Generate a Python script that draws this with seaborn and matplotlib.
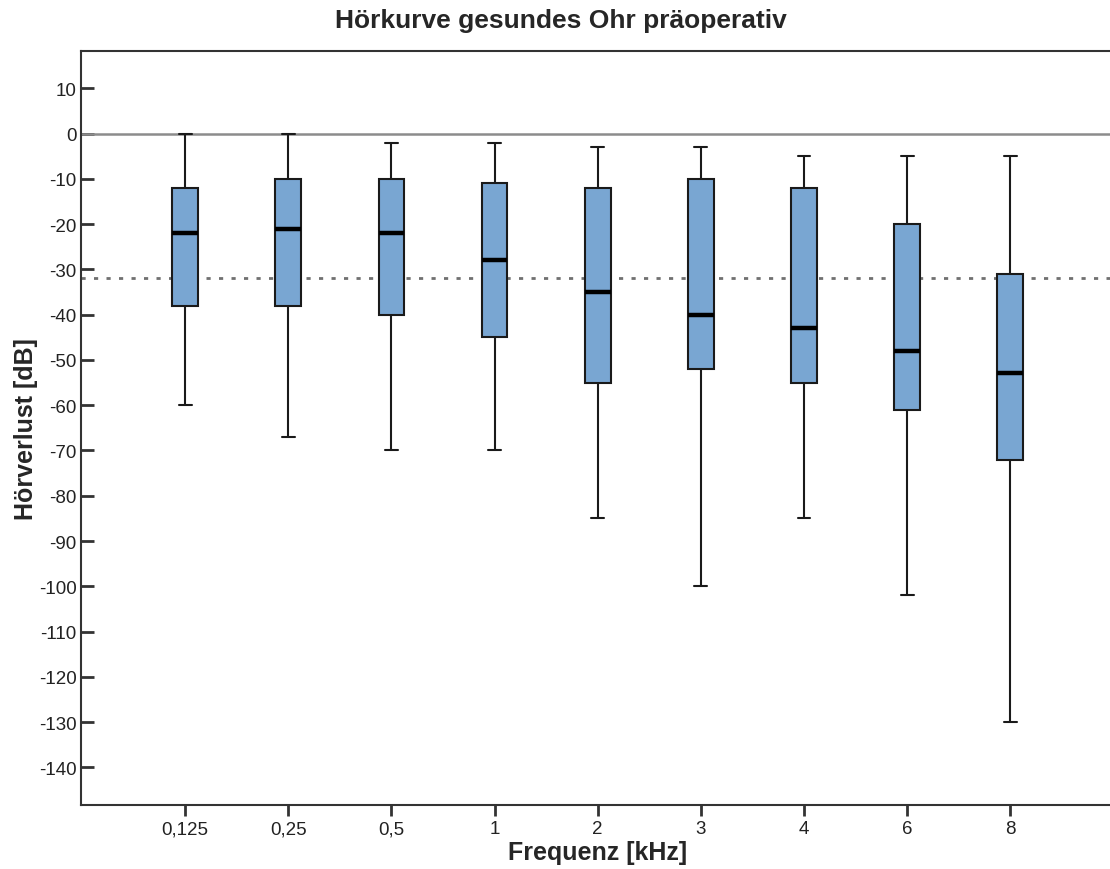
import matplotlib
matplotlib.use("Agg")
import matplotlib.pyplot as plt
import seaborn as sns
import pandas as pd

frequencies = ["0,125", "0,25", "0,5", "1", "2", "3", "4", "6", "8"]
whisker_low = [-60, -67, -70, -70, -85, -100, -85, -102, -130]
q1_values = [-38, -38, -40, -45, -55, -52, -55, -61, -72]
medians = [-22, -21, -22, -28, -35, -40, -43, -48, -53]
q3_values = [-12, -10, -10, -11, -12, -10, -12, -20, -31]
whisker_high = [0, 0, -2, -2, -3, -3, -5, -5, -5]
reference_level = -32

rows = []
for f, lo, a, m, b, hi in zip(frequencies, whisker_low, q1_values, medians, q3_values, whisker_high):
    for v in (lo, a, m, b, hi):
        rows.append({"Frequenz": f, "Hörverlust": v})
df = pd.DataFrame(rows)

sns.set_style("white")
plt.rcParams["font.family"] = ["Liberation Sans", "DejaVu Sans"]

fig = plt.figure(figsize=(11.1, 8.7), dpi=100)
ax = fig.add_axes([0.073, 0.0736, 0.93, 0.867])

ax.axhline(0, color="#8c8c8c", lw=1.8, zorder=1)
ax.axhline(reference_level, color="#707070", lw=2, ls=(0, (1.5, 3)), zorder=1)

sns.boxplot(data=df, x="Frequenz", y="Hörverlust", order=frequencies,
            whis=(0, 100), width=0.25, color="#79a6d2", saturation=1,
            linecolor="#1a1a1a", linewidth=1.5, fliersize=0,
            medianprops={"color": "black", "linewidth": 3.2},
            ax=ax, zorder=3)

ax.set_xlim(-1.01, 9.0)
ax.set_ylim(-148.3, 18.3)
ax.set_yticks(range(-140, 11, 10))
ax.set_yticklabels([str(v) for v in range(-140, 11, 10)])

for s in ["left", "bottom", "top"]:
    ax.spines[s].set_color("#333333")
    ax.spines[s].set_linewidth(1.5)
ax.spines["right"].set_visible(False)

ax.tick_params(axis="y", direction="in", length=9, width=2, color="#333333",
               labelsize=13.5, labelcolor="#222222", left=True, pad=3)
ax.tick_params(axis="x", direction="out", length=8, width=2, color="#333333",
               labelsize=13.5, labelcolor="#222222", bottom=True, pad=3)

ax.set_xlabel("Frequenz [kHz]", fontsize=18, fontweight="bold", labelpad=2)
ax.set_ylabel("Hörverlust [dB]", fontsize=18, fontweight="bold", labelpad=1)
fig.suptitle("Hörkurve gesundes Ohr präoperativ", x=0.505, y=0.99,
             fontsize=19, fontweight="bold")

fig.savefig("out.png", dpi=100)
